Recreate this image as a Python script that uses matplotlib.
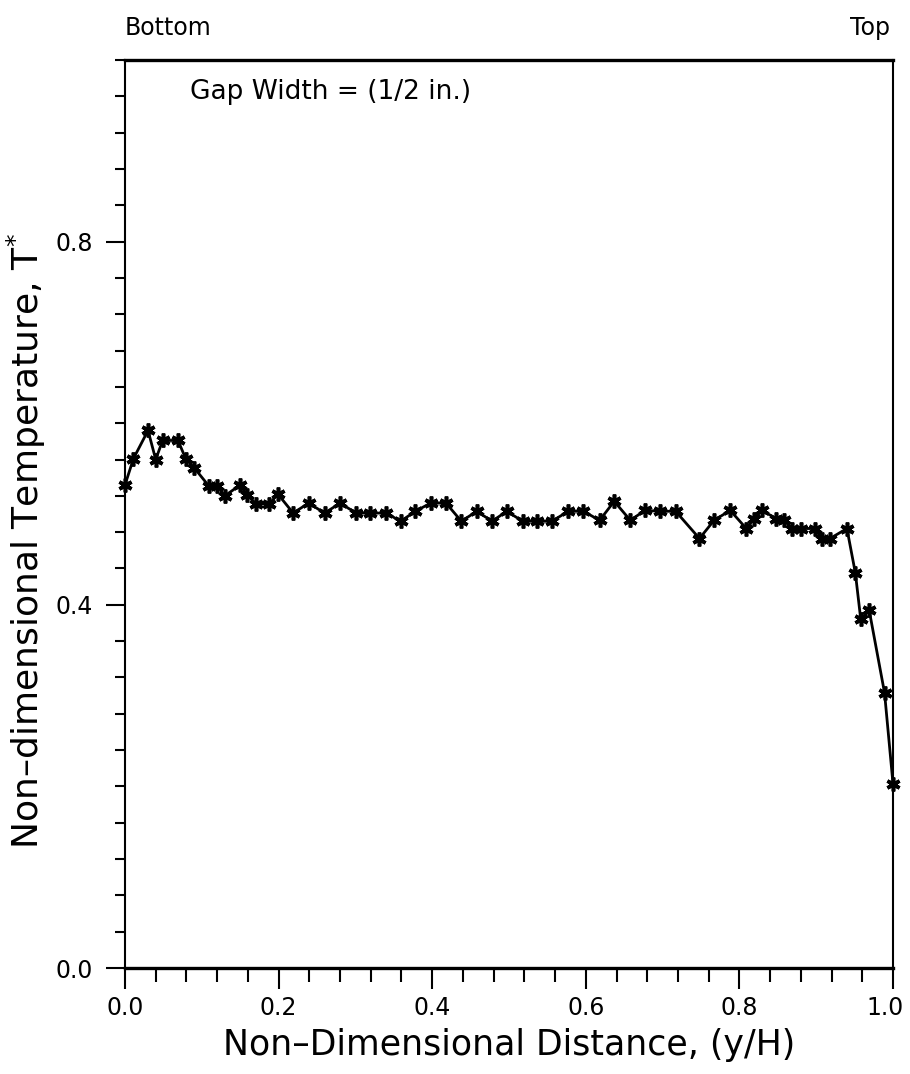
import matplotlib
matplotlib.use("Agg")
import matplotlib.pyplot as plt
from matplotlib import font_manager
from matplotlib.ticker import MultipleLocator, FixedLocator
from matplotlib.transforms import ScaledTranslation

# Temperature profile across the gap (y/H from bottom to top)
distance = [0.000, 0.011, 0.030, 0.040, 0.049, 0.069, 0.079, 0.090, 0.109, 0.120,
            0.130, 0.150, 0.159, 0.171, 0.188, 0.199, 0.219, 0.239, 0.260, 0.280,
            0.301, 0.319, 0.340, 0.359, 0.378, 0.398, 0.418, 0.438, 0.458, 0.478,
            0.497, 0.518, 0.536, 0.556, 0.577, 0.597, 0.618, 0.637, 0.658, 0.677,
            0.697, 0.717, 0.748, 0.767, 0.788, 0.809, 0.819, 0.829, 0.848, 0.858,
            0.869, 0.880, 0.898, 0.908, 0.918, 0.940, 0.951, 0.958, 0.969, 0.989,
            1.000]
temperature = [0.532, 0.561, 0.592, 0.560, 0.581, 0.581, 0.561, 0.551, 0.531, 0.531,
               0.520, 0.532, 0.521, 0.511, 0.511, 0.522, 0.501, 0.512, 0.501, 0.512,
               0.501, 0.501, 0.501, 0.492, 0.503, 0.512, 0.512, 0.492, 0.503, 0.492,
               0.503, 0.492, 0.492, 0.492, 0.503, 0.503, 0.493, 0.514, 0.493, 0.504,
               0.503, 0.503, 0.473, 0.493, 0.504, 0.484, 0.495, 0.504, 0.495, 0.493,
               0.484, 0.484, 0.484, 0.473, 0.473, 0.484, 0.435, 0.384, 0.394, 0.303,
               0.203]

x_major = [0.0, 0.2, 0.4, 0.6, 0.8, 1.0]
y_major = [0.0, 0.4, 0.8]

available = {f.name for f in font_manager.fontManager.ttflist}
family = "DejaVu Sans"
for cand in ["Liberation Sans Narrow", "DejaVu Sans Condensed"]:
    if cand in available:
        family = cand
        break
plt.rcParams["font.family"] = [family, "DejaVu Sans"]
plt.rcParams["mathtext.default"] = "regular"

fig = plt.figure(figsize=(9.10, 10.74), dpi=100)
ax = fig.add_axes([125 / 910, 106 / 1074, 768 / 910, 908 / 1074])

ax.plot(distance, temperature, color="black", lw=2.0,
        marker=(6, 2, 0), markersize=10, markeredgewidth=2.6,
        markeredgecolor="black", clip_on=False, zorder=3)

ax.set_xlim(0, 1)
ax.set_ylim(0, 1)

ax.xaxis.set_major_locator(FixedLocator(x_major))
ax.xaxis.set_minor_locator(MultipleLocator(0.04))
ax.yaxis.set_major_locator(FixedLocator(y_major))
ax.yaxis.set_minor_locator(MultipleLocator(0.04))
ax.set_xticklabels([f"{v:.1f}" for v in x_major])
ax.set_yticklabels([f"{v:.1f}" for v in y_major])

ax.tick_params(axis="x", which="major", direction="out", length=15, width=1.5,
               labelsize=17, pad=5)
ax.tick_params(axis="x", which="minor", direction="out", length=10, width=1.5)
ax.tick_params(axis="y", which="major", direction="out", length=14, width=1.5,
               labelsize=17, pad=9)
ax.tick_params(axis="y", which="minor", direction="out", length=7, width=1.5)

# keep the rightmost x tick label inside the figure
last = ax.get_xticklabels()[-1]
last.set_transform(last.get_transform() + ScaledTranslation(-6 / 72, 0, fig.dpi_scale_trans))

for side in ["top", "bottom"]:
    ax.spines[side].set_linewidth(2.4)
for side in ["left", "right"]:
    ax.spines[side].set_linewidth(1.5)

ax.set_xlabel("Non\u2013Dimensional Distance, (y/H)", fontsize=25, labelpad=6)
ax.set_ylabel("Non\u2013dimensional Temperature, T$^{*}$", fontsize=26)
ax.yaxis.set_label_coords(-0.1, 0.47)

ax.text(0.085, 0.965, "Gap Width = (1/2 in.)", transform=ax.transAxes,
        fontsize=19, ha="left", va="center")
fig.text(125 / 910, 1 - 28 / 1074, "Bottom", fontsize=17, ha="left", va="center")
fig.text(890 / 910, 1 - 28 / 1074, "Top", fontsize=17, ha="right", va="center")

fig.savefig("out.png", dpi=100)
